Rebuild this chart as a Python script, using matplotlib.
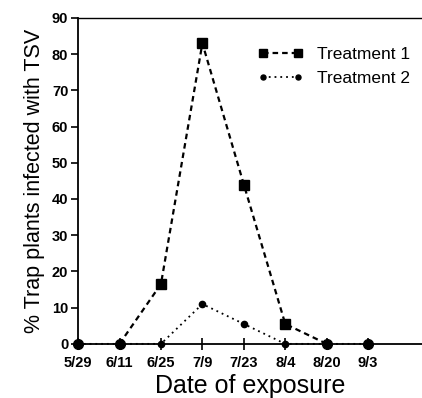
import numpy as np
import matplotlib
matplotlib.use("Agg")
import matplotlib.pyplot as plt

# dates of exposure and % trap plants infected
dates = ["5/29", "6/11", "6/25", "7/9", "7/23", "8/4", "8/20", "9/3"]
treatment1 = [np.nan, 0, 16.5, 83, 44, 5.5, 0, np.nan]
treatment2 = [0, 0, 0, 11, 5.5, 0, 0, 0]

plt.rcParams["font.family"] = ["Liberation Sans", "DejaVu Sans"]

fig = plt.figure(figsize=(4.22, 3.98), dpi=100)
ax = fig.add_axes([0.185, 0.136, 0.815, 0.819])

x = np.arange(len(dates))
ax.plot(x, treatment2, linestyle=(0, (1, 2.2)), color="black", lw=1.3,
        marker="o", markersize=4.5, label="Treatment 2", clip_on=False, zorder=3)
ax.plot(x, treatment1, linestyle=(0, (2.5, 1.8)), color="black", lw=1.6,
        marker="s", markersize=7, markevery=[2, 3, 4, 5], label="Treatment 1",
        clip_on=False, zorder=4)
# bigger dots on the zero points at the ends
ax.plot(x[[0, 1, 6, 7]], np.array(treatment2)[[0, 1, 6, 7]], "o", color="black",
        markersize=7, clip_on=False, zorder=5)

ax.set_xlim(0, 8.3)
ax.set_ylim(0, 90)
ax.set_xticks(x)
ax.set_xticklabels(dates, fontsize=10.5, fontweight="bold")
ax.set_yticks(np.arange(0, 91, 10))
ax.set_yticklabels([str(v) for v in range(0, 91, 10)], fontsize=10.5, fontweight="bold")
ax.tick_params(axis="x", direction="inout", length=9, width=1.2, pad=4)
ax.tick_params(axis="y", direction="out", length=5, width=1.2, pad=2)

ax.spines["right"].set_visible(False)
for s in ["left", "bottom"]:
    ax.spines[s].set_linewidth(1.3)
ax.spines["top"].set_linewidth(1.0)

ax.set_xlabel("Date of exposure", fontsize=18, labelpad=3)
ax.set_ylabel("% Trap plants infected with TSV", fontsize=15.5, labelpad=5)

handles, labels = ax.get_legend_handles_labels()
ax.legend(handles[::-1], labels[::-1], loc="upper right", bbox_to_anchor=(1.01, 0.96),
          frameon=False, fontsize=12.5, handlelength=2.6, handletextpad=0.8,
          labelspacing=0.55, numpoints=2, markerscale=0.8)

fig.savefig("out.png", dpi=100)
